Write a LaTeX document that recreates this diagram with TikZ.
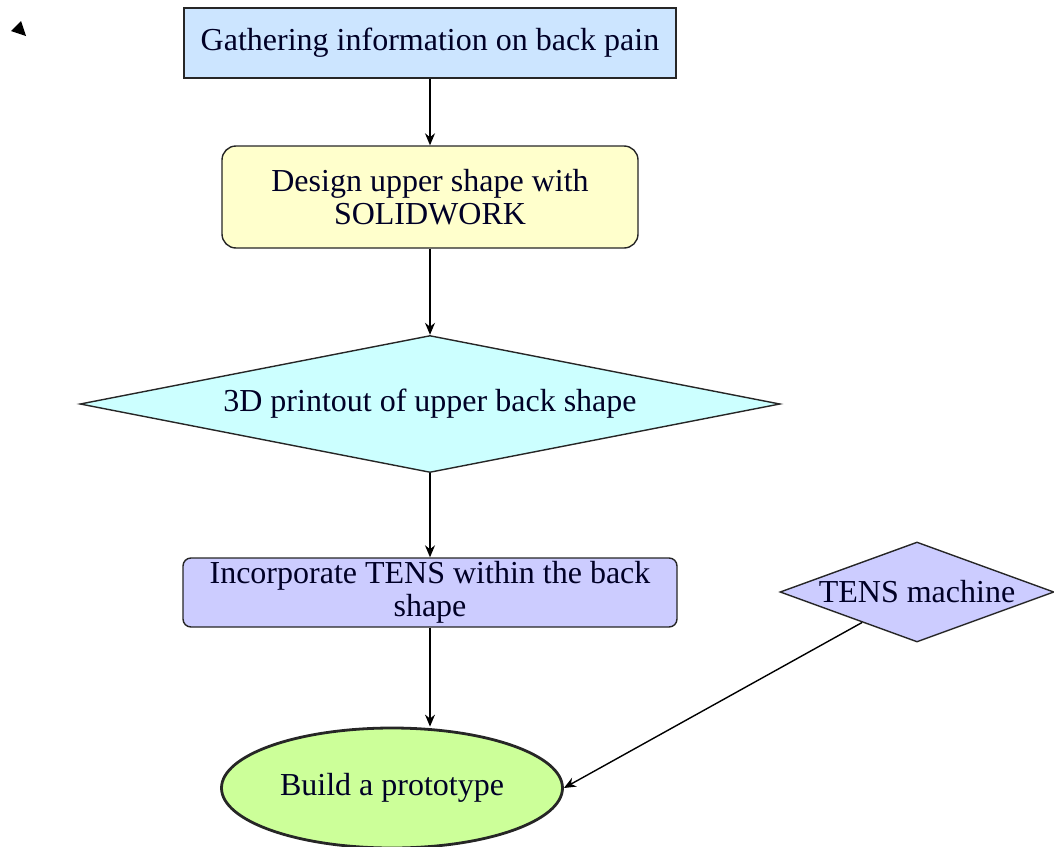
\documentclass[tikz,border=0pt]{standalone}
\usepackage{fontspec}
\setmainfont{Liberation Serif}
\usepackage{tikz}
\usetikzlibrary{arrows.meta}
\usetikzlibrary{shapes.geometric}

\definecolor{gatherblue}{HTML}{CCE5FF}
\definecolor{designyellow}{HTML}{FFFFCC}
\definecolor{printcyan}{HTML}{CCFFFF}
\definecolor{tenslilac}{HTML}{CCCCFF}
\definecolor{protogreen}{HTML}{CCFF99}

\begin{document}
\begin{tikzpicture}[x=0.5pt,y=-0.5pt,->,>={Stealth[length=6pt,width=5pt]},line width=0.7pt,
    every node/.style={font=\fontsize{16}{16.5}\selectfont,align=center,inner sep=0pt,draw=black!85,text=black!85!blue},
    rect node/.style={rectangle,minimum width=246pt,minimum height=35pt},
    round node/.style={rectangle,rounded corners=#1},
    dec node/.style={diamond,aspect=#1},
    end node/.style={ellipse,line width=1.4pt}]
    \useasboundingbox (0,0) rectangle (1054,846);

    \fill[black] (21,21) -- (11,31) -- (26,36) -- cycle;

    \node[rect node,fill=gatherblue] (gather) at (430,43) {Gathering information on back pain};
    \node[round node=7pt,fill=designyellow,minimum width=208pt,minimum height=51pt] (design) at (430,197) {Design upper shape with\\SOLIDWORK};
    \node[dec node=5.1,fill=printcyan,minimum width=350pt,minimum height=68.5pt] (print) at (430,404) {3D printout of upper back shape};
    \node[round node=4pt,fill=tenslilac,minimum width=247pt,minimum height=34.5pt] (incorp) at (430,592.5) {Incorporate TENS within the back\\shape};
    \node[dec node=2.7,fill=tenslilac,minimum width=137pt,minimum height=50pt] (tens) at (917,592) {TENS machine};
    \node[end node,fill=protogreen,minimum width=170.5pt,minimum height=60pt] (proto) at (392,788) {Build a prototype};

    \path
    (gather) edge (design)
    (design) edge (print)
    (print) edge (incorp)
    (incorp.south) edge (incorp.south |- proto.north)
    (tens) edge (proto.east);

\end{tikzpicture}
\end{document}
